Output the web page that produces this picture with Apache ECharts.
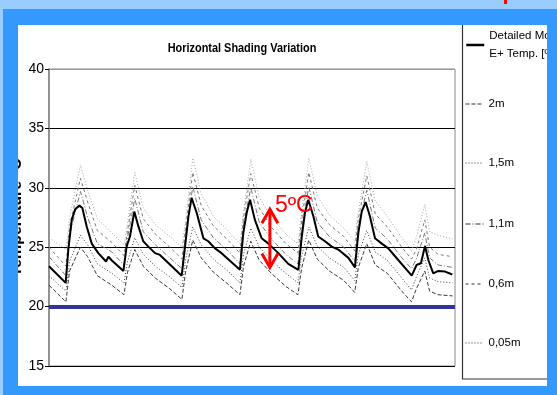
<!DOCTYPE html>
<html><head><meta charset="utf-8">
<script src="https://cdn.jsdelivr.net/npm/echarts@6/dist/echarts.min.js"></script>
<style>html,body{margin:0;padding:0;background:#3399FF;}#c{width:557px;height:395px;}</style>
</head><body><div id="c"></div>
<script>
// ---- data (hours from start of the 7-day period, temperature in °C) ----
const blackHours = [0,6.9,8.0,9.4,10.8,12.6,13.8,15.6,17.7,20.4,23.6,24.6,25.9,30.8,32.1,33.5,35.3,37.0,39.0,41.1,43.9,45.9,54.9,56.3,57.7,59.0,61.1,63.9,65.9,68.7,71.4,79.0,80.4,81.8,83.2,85.2,88.0,90.8,94.9,99.0,103.2,104.6,105.9,107.3,109.4,111.4,114.2,117.0,119.7,123.9,126.6,128.0,129.4,131.0,132.8,134.9,137.7,140.4,144.6,150.1,152.1,153.9,155.6,157.0,159.0,161.1,163.9,166.9];
const detailedModel = [23.4,22.0,24.8,27.3,28.2,28.5,28.3,26.75,25.3,24.5,23.8,24.2,23.9,23.0,25.05,25.9,28.0,26.75,25.5,25.05,24.5,24.35,22.6,25.05,27.6,29.15,27.9,25.75,25.5,24.9,24.5,23.1,26.2,27.9,29.0,27.3,25.75,25.3,24.5,23.6,23.1,25.9,27.9,29.0,27.6,25.9,25.5,25.05,24.8,24.1,23.3,26.2,28.0,28.8,27.6,25.75,25.3,24.9,23.9,22.6,23.5,23.65,25.1,23.9,22.8,23.0,22.95,22.7];
const greyHours = [0,7,8.5,13,16,20,26,31,32.5,35.5,39,44,50,55,56.5,59.5,63,68,74,79,80.5,83.5,87,92,98,103,104.5,107.5,111,116,122,126.5,128,131.5,135,140,146,150,152,155.5,157.5,161,167];
const shade2m   = [21.8,20.4,23.0,25.0,24.2,22.6,21.8,21.0,22.9,24.8,23.4,22.4,21.5,20.6,22.9,25.6,24.1,22.9,21.9,21.0,23.4,25.5,23.9,22.8,21.7,21.0,23.2,25.6,24.0,23.0,22.2,21.2,23.3,25.3,23.5,22.8,21.3,20.4,21.5,23.0,21.3,21.0,20.9];
const shade15m  = [22.6,21.3,23.8,26.0,25.2,23.6,22.8,22.0,23.8,25.8,24.4,23.4,22.5,21.6,23.9,26.7,25.2,24.0,23.0,22.0,24.4,26.6,25.0,23.9,22.8,22.0,24.2,26.7,25.1,24.1,23.3,22.2,24.4,26.4,24.6,23.9,22.4,21.4,22.5,24.1,22.4,22.1,22.0];
const shade11m  = [24.2,22.6,26.0,29.7,27.5,25.3,24.6,23.5,25.8,29.1,26.3,25.2,24.1,23.2,26.0,30.1,27.3,25.8,24.7,23.6,26.9,30.0,27.1,25.7,24.4,23.6,26.5,30.1,27.1,25.9,25.0,23.8,26.8,29.8,26.6,25.7,24.1,23.2,24.0,26.2,24.1,23.5,23.3];
const shade06m  = [25.0,23.4,26.7,30.8,28.8,26.4,25.4,24.3,26.4,30.2,27.4,26.1,25.0,24.0,26.6,31.3,28.5,26.8,25.6,24.5,27.5,31.2,28.3,26.7,25.3,24.5,27.2,31.3,28.3,26.9,25.9,24.7,27.4,31.0,27.8,26.7,25.0,24.0,24.8,27.3,25.0,24.4,24.2];
const shade005m = [25.8,24.8,27.5,31.9,29.8,27.4,26.2,25.2,27.0,31.3,28.3,26.9,25.9,25.0,27.2,32.5,29.5,27.6,26.4,25.3,28.0,32.4,29.2,27.5,26.1,25.3,27.8,32.5,29.3,27.7,26.6,25.5,28.0,32.2,28.9,27.6,25.8,24.7,25.8,28.6,26.3,26.0,25.7];
const seriesNames = ['Detailed Model E+ Temp. [ºC]','2m','1,5m','1,1m','0,6m','0,05m'];
const yTicks = [15,20,25,30,35,40];
const comfortLine = 20;
const titleText = 'Horizontal Shading Variation';
const annotation = {hour:91.4, top:28.2, bottom:23.3, text:'5ºC'};

const SANS = "'Liberation Sans',Arial,sans-serif";
function zip(h, v){ return h.map((x,i)=>[x, v[i]]); }

const chart = echarts.init(document.getElementById('c'), null, {renderer:'canvas'});

const greyDefs = [
  {name:seriesNames[1], values:shade2m,   color:'#3a3a3a', dash:[4,2]},
  {name:seriesNames[2], values:shade15m,  color:'#444444', dash:[1,2]},
  {name:seriesNames[3], values:shade11m,  color:'#777777', dash:[5,2,1,2]},
  {name:seriesNames[4], values:shade06m,  color:'#777777', dash:[3,3]},
  {name:seriesNames[5], values:shade005m, color:'#a8a8a8', dash:[1,2]}
];

const series = greyDefs.map(d => ({
  name:d.name, type:'line', symbol:'none', silent:true, animation:false,
  data: zip(greyHours, d.values),
  lineStyle:{color:d.color, width:1, type:d.dash},
  itemStyle:{color:d.color}, z:2
}));
series.push({
  name:seriesNames[0], type:'line', symbol:'none', silent:true, animation:false,
  data: zip(blackHours, detailedModel),
  lineStyle:{color:'#000', width:2}, itemStyle:{color:'#000'}, z:3,
  markLine:{silent:true, symbol:['none','none'], label:{show:false}, animation:false,
    lineStyle:{color:'#333399', width:4, type:'solid'}, emphasis:{disabled:true},
    data:[{yAxis:comfortLine}]}
});

const legendCenters = [45,104,163,224,284,343];
const legends = seriesNames.map((n,i) => ({
  data:[n], orient:'vertical', left:465, top: i===0 ? legendCenters[0]-27 : legendCenters[i]-7,
  padding:0, itemWidth:18, itemHeight:12, selectedMode:false,
  itemStyle:{opacity:0},
  lineStyle:{color: i===0 ? '#000' : '#333', width: i===0 ? 2.5 : 1},
  formatter: i===0 ? (() => 'Detailed Model\nE+ Temp. [ºC]') : undefined,
  textStyle: i===0
    ? {fontFamily:SANS, fontSize:11.5, color:'#000', lineHeight:18, padding:[18,0,0,0]}
    : {fontFamily:SANS, fontSize:11.5, color:'#000', lineHeight:14}
}));

const BLUE = '#3399FF', LIGHT = '#99CCFF';
const frame = [
  {type:'rect', shape:{x:0,y:0,width:557,height:25}, style:{fill:BLUE}, z:100, silent:true},
  {type:'rect', shape:{x:0,y:0,width:557,height:9}, style:{fill:LIGHT}, z:101, silent:true},
  {type:'rect', shape:{x:0,y:0,width:18,height:395}, style:{fill:BLUE}, z:100, silent:true},
  {type:'rect', shape:{x:0,y:0,width:3,height:395}, style:{fill:LIGHT}, z:101, silent:true},
  {type:'rect', shape:{x:547,y:0,width:10,height:395}, style:{fill:BLUE}, z:100, silent:true},
  {type:'rect', shape:{x:0,y:386,width:557,height:9}, style:{fill:BLUE}, z:100, silent:true},
  {type:'rect', shape:{x:504,y:0,width:3,height:4}, style:{fill:'#FF0000'}, z:102, silent:true},
  {type:'rect', shape:{x:462.5,y:20,width:100,height:359}, style:{fill:'none', stroke:'#333', lineWidth:1.2}, z:5, silent:true},
  {type:'text', x:242, y:48, scaleX:0.84, style:{text:titleText, fill:'#000', font:"bold 13px 'Liberation Sans', Arial, sans-serif", textAlign:'center', textVerticalAlign:'middle'}, z:10, silent:true}
];

chart.setOption({
  animation:false,
  backgroundColor:'#ffffff',
  grid:{left:49, right:102, top:69, bottom:29, show:true, borderColor:'#888', borderWidth:1, containLabel:false},
  xAxis:{type:'value', min:0, max:168, show:false},
  yAxis:{type:'value', min:yTicks[0], max:yTicks[yTicks.length-1], interval:5,
    name:'Temperature °C', nameLocation:'middle', nameGap:24, nameRotate:90, nameMoveOverlap:false,
    nameTextStyle:{fontFamily:SANS, fontWeight:'bold', fontSize:16, color:'#000'},
    axisLine:{show:true, lineStyle:{color:'#808080', width:1.5}},
    axisTick:{show:true, length:4, lineStyle:{color:'#000'}},
    axisLabel:{fontFamily:SANS, fontSize:14, color:'#000', margin:5},
    splitLine:{show:true, lineStyle:{color:['#000','#000','#000','#000','#000','#999'], width:1.2}}},
  legend: legends,
  series: series,
  graphic: frame
});

// annotation arrow placed through the chart's own coordinate system
const pTop = chart.convertToPixel({gridIndex:0}, [annotation.hour, annotation.top]);
const pBot = chart.convertToPixel({gridIndex:0}, [annotation.hour, annotation.bottom]);
const ax = pTop[0];
const arm = 8, armH = 14;
const red = '#FF0000';
chart.setOption({graphic: frame.concat([
  {type:'line', shape:{x1:ax,y1:pTop[1],x2:ax,y2:pBot[1]}, style:{stroke:red, lineWidth:3}, z:50, silent:true},
  {type:'polyline', shape:{points:[[ax-arm,pTop[1]+armH],[ax,pTop[1]],[ax+arm,pTop[1]+armH]]}, style:{stroke:red, lineWidth:3, fill:'none'}, z:50, silent:true},
  {type:'polyline', shape:{points:[[ax-arm,pBot[1]-armH],[ax,pBot[1]],[ax+arm,pBot[1]-armH]]}, style:{stroke:red, lineWidth:3, fill:'none'}, z:50, silent:true},
  {type:'text', x:ax+5, y:pTop[1]-4, style:{text:annotation.text, fill:red, font:"23px 'Liberation Sans', Arial, sans-serif", textVerticalAlign:'middle'}, z:50, silent:true}
])});
</script></body></html>
